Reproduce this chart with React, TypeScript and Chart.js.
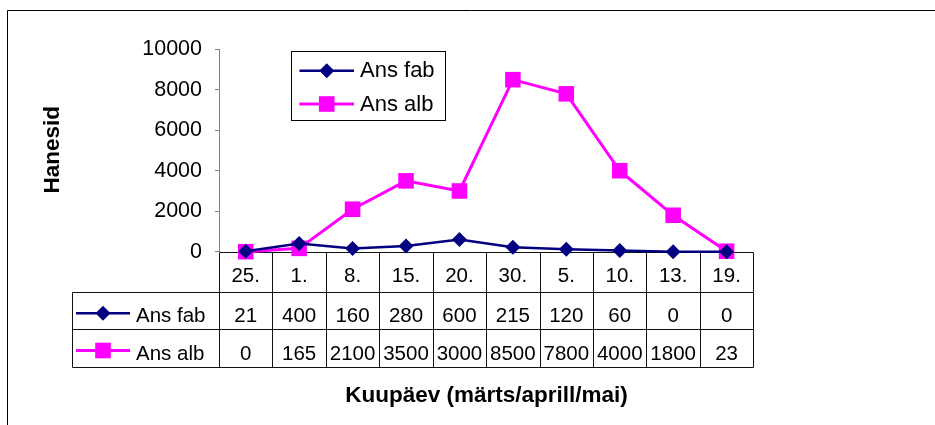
import React, { useEffect, useRef } from 'react';
import { Chart, registerables } from 'chart.js';

Chart.register(...registerables);

const categories = ['25.', '1.', '8.', '15.', '20.', '30.', '5.', '10.', '13.', '19.'];
const ansFab = [21, 400, 160, 280, 600, 215, 120, 60, 0, 0];
const ansAlb = [0, 165, 2100, 3500, 3000, 8500, 7800, 4000, 1800, 23];
const seriesNames = ['Ans fab', 'Ans alb'];
const seriesColors = ['#000080', '#FF00FF'];
const seriesMarkers = ['rectRot', 'rect'];
const yMin = 0;
const yMax = 10000;
const yStep = 2000;
const yTitle = 'Hanesid';
const xTitle = 'Kuupäev (märts/aprill/mai)';

const FONT = '"Liberation Sans", Arial, Helvetica, sans-serif';

function drawMarker(ctx: CanvasRenderingContext2D, style: string, x: number, y: number, color: string) {
  ctx.save();
  ctx.fillStyle = color;
  ctx.beginPath();
  if (style === 'rect') {
    const s = 7.8;
    ctx.rect(x - s, y - s, 2 * s, 2 * s);
  } else {
    const r = 7.5;
    ctx.moveTo(x - r, y);
    ctx.lineTo(x, y - r);
    ctx.lineTo(x + r, y);
    ctx.lineTo(x, y + r);
    ctx.closePath();
  }
  ctx.fill();
  ctx.restore();
}

function legendKey(ctx: CanvasRenderingContext2D, i: number, x0: number, x1: number, y: number) {
  ctx.save();
  ctx.strokeStyle = seriesColors[i];
  ctx.lineWidth = i === 0 ? 2.5 : 3;
  ctx.beginPath();
  ctx.moveTo(x0, y);
  ctx.lineTo(x1, y);
  ctx.stroke();
  ctx.restore();
  drawMarker(ctx, seriesMarkers[i], (x0 + x1) / 2, y, seriesColors[i]);
}

const px = (v: number) => Math.round(v) + 0.5;

const tablePlugin = {
  id: 'tablePlugin',
  beforeDatasetsDraw(chart: any) {
    const ctx: CanvasRenderingContext2D = chart.ctx;
    const { left, right, bottom } = chart.chartArea;
    const n = categories.length;
    const w = (right - left) / n;
    const rowTops = [bottom, bottom + 40, bottom + 77.6, bottom + 115];
    const legLeft = 71.7;

    ctx.save();
    // outer frame
    ctx.strokeStyle = '#000';
    ctx.lineWidth = 1;
    ctx.beginPath();
    ctx.moveTo(7.5, 425);
    ctx.lineTo(7.5, 10.5);
    ctx.lineTo(935, 10.5);
    ctx.stroke();

    // table lines
    ctx.strokeStyle = '#111';
    ctx.beginPath();
    ctx.moveTo(px(left), px(rowTops[0]));
    ctx.lineTo(px(right), px(rowTops[0]));
    for (let r = 1; r < 4; r++) {
      ctx.moveTo(px(legLeft), px(rowTops[r]));
      ctx.lineTo(px(right), px(rowTops[r]));
    }
    for (let i = 0; i <= n; i++) {
      const x = px(left + i * w);
      ctx.moveTo(x, px(rowTops[0]));
      ctx.lineTo(x, px(rowTops[3]));
    }
    ctx.moveTo(px(legLeft), px(rowTops[1]));
    ctx.lineTo(px(legLeft), px(rowTops[3]));
    ctx.stroke();

    // texts
    ctx.fillStyle = '#000';
    ctx.textAlign = 'center';
    ctx.textBaseline = 'alphabetic';
    ctx.font = `20.5px ${FONT}`;
    const rows = [categories.map(String), ansFab.map(String), ansAlb.map(String)];
    rows.forEach((vals, r) => {
      vals.forEach((v, i) => {
        const cx = left + (i + 0.5) * w;
        ctx.fillText(v, cx, rowTops[r] + 30.3);
      });
    });

    // legend keys in the table
    for (let s = 0; s < 2; s++) {
      const mid = s === 0 ? 313.3 : 350.5;
      legendKey(ctx, s, 76, 130, mid);
      ctx.fillStyle = '#000';
      ctx.textAlign = 'left';
      ctx.font = `20.5px ${FONT}`;
      ctx.fillText(seriesNames[s], 136, rowTops[s + 1] + 30.3);
    }

    // axis titles
    ctx.font = `bold 22.5px ${FONT}`;
    ctx.textAlign = 'center';
    ctx.fillText(xTitle, 486.5, 402.3);
    ctx.save();
    ctx.translate(59, 149.7);
    ctx.rotate(-Math.PI / 2);
    ctx.fillText(yTitle, 0, 0);
    ctx.restore();
    ctx.restore();
  },
  afterDraw(chart: any) {
    const ctx: CanvasRenderingContext2D = chart.ctx;
    ctx.save();
    ctx.fillStyle = '#fff';
    ctx.fillRect(292, 51.5, 153.5, 69);
    ctx.strokeStyle = '#000';
    ctx.lineWidth = 1;
    ctx.strokeRect(291.5, 51.5, 154, 69);
    const mids = [70.7, 104];
    const bases = [76.5, 111.3];
    for (let s = 0; s < 2; s++) {
      legendKey(ctx, s, 299.5, 354, mids[s]);
      ctx.fillStyle = '#000';
      ctx.textAlign = 'left';
      ctx.textBaseline = 'alphabetic';
      ctx.font = `22px ${FONT}`;
      ctx.fillText(seriesNames[s], 360, bases[s]);
    }
    ctx.restore();
  },
};

export default function App() {
  const ref = useRef<HTMLCanvasElement | null>(null);

  useEffect(() => {
    if (!ref.current) return;
    const chart = new Chart(ref.current, {
      type: 'line',
      data: {
        labels: categories,
        datasets: [
          {
            label: seriesNames[0],
            data: ansFab,
            borderColor: seriesColors[0],
            backgroundColor: seriesColors[0],
            pointBackgroundColor: seriesColors[0],
            pointBorderColor: seriesColors[0],
            pointBorderWidth: 0,
            pointStyle: 'rectRot',
            pointRadius: 7.5,
            borderWidth: 2.5,
            tension: 0,
            clip: false,
          },
          {
            label: seriesNames[1],
            data: ansAlb,
            borderColor: seriesColors[1],
            backgroundColor: seriesColors[1],
            pointBackgroundColor: seriesColors[1],
            pointBorderColor: seriesColors[1],
            pointBorderWidth: 0,
            pointStyle: 'rect',
            pointRadius: 11,
            borderWidth: 3,
            tension: 0,
            clip: false,
          },
        ],
      },
      options: {
        animation: false,
        responsive: false,
        devicePixelRatio: 1,
        layout: {
          padding: { left: 0, top: 49.3, right: 935 - 753.3, bottom: 425 - 251.7 },
        },
        plugins: {
          legend: { display: false },
          tooltip: { enabled: false },
        },
        scales: {
          x: {
            type: 'category',
            offset: true,
            display: false,
          },
          y: {
            min: yMin,
            max: yMax,
            afterFit(scale: any) {
              scale.width = 219;
            },
            ticks: {
              stepSize: yStep,
              color: '#000',
              padding: 13,
              font: { family: FONT, size: 21.5 },
              callback: (v: any) => String(v),
            },
            grid: {
              drawOnChartArea: false,
              drawTicks: true,
              tickLength: 4,
              color: '#808080',
            },
            border: { color: '#808080', width: 1 },
          },
        },
      } as any,
      plugins: [tablePlugin],
    });
    return () => chart.destroy();
  }, []);

  return (
    <canvas
      ref={ref}
      width={935}
      height={425}
      style={{ position: 'absolute', left: 0, top: 0, width: 935, height: 425, background: '#fff' }}
    />
  );
}
